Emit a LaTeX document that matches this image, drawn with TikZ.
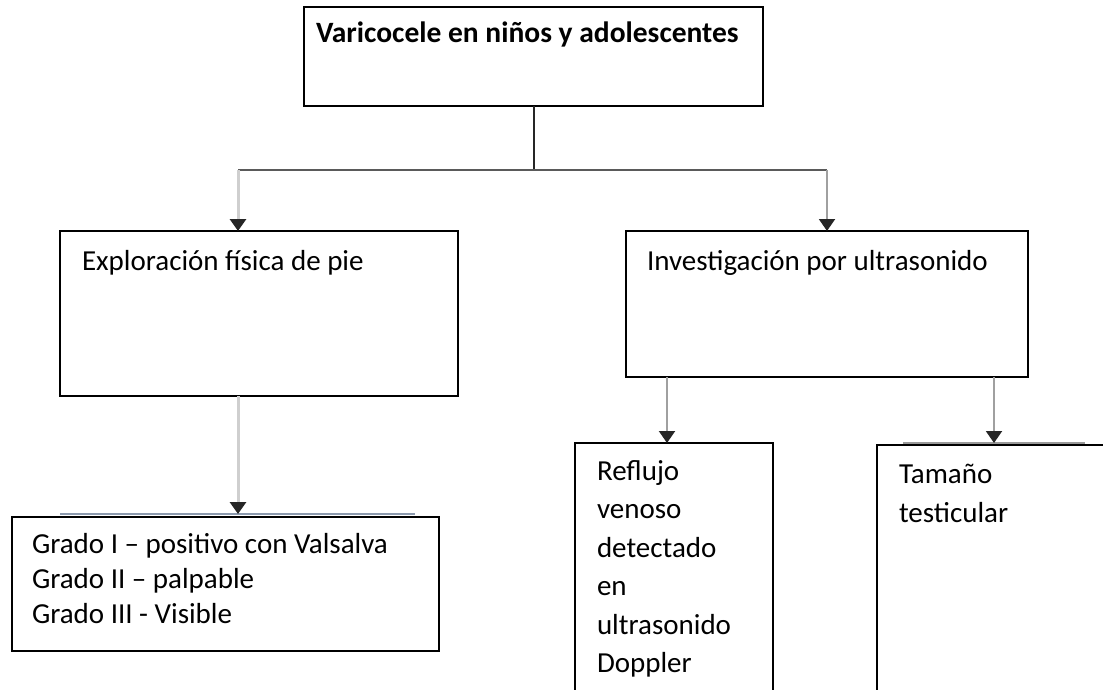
\documentclass[tikz,border=0pt]{standalone}
\usepackage{fontspec}
\setmainfont{Carlito}
\usetikzlibrary{arrows.meta}
\definecolor{barc}{HTML}{5A5A5A}
\definecolor{lightc}{HTML}{CFCFCF}
\definecolor{midc}{HTML}{A0A0A0}
\definecolor{tipc}{HTML}{262626}
\definecolor{blueg}{HTML}{8C9AAE}
\definecolor{greyl}{HTML}{9A9A9A}
\begin{document}
\begin{tikzpicture}[x=1pt,y=-1pt,
  box/.style={draw=black, line width=2pt, rectangle, inner sep=0pt, outer sep=0pt, anchor=north west},
  txt/.style={anchor=base west, inner sep=0pt, outer sep=0pt, font=\fontsize{29}{35}\selectfont},
  ttl/.style={anchor=base west, inner sep=0pt, outer sep=0pt, font=\fontsize{29.5}{36}\selectfont\bfseries},
  tip/.style={-{Triangle[width=16pt,length=12pt,color=tipc]}},
  lightarrow/.style={tip, draw=lightc, line width=3pt},
  midarrow/.style={tip, draw=midc, line width=2pt},
  stemline/.style={draw=black!85, line width=2pt},
  barline/.style={draw=barc, line width=2.6pt},
]
\fill[white] (0,0) rectangle (1103,690);
\useasboundingbox (0,0) rectangle (1103,690);
\clip (0,0) rectangle (1103,690);

% boxes
\node[box, minimum width=459pt, minimum height=99pt] (top) at (304,7) {};
\node[box, minimum width=398pt, minimum height=165pt] (expl) at (60,231) {};
\node[box, minimum width=402pt, minimum height=146pt] (inv) at (626,231) {};
\node[box, minimum width=427pt, minimum height=134pt] (grado) at (12,517) {};
\node[box, minimum width=198pt, minimum height=300pt] (refl) at (575,443) {};
\node[box, minimum width=300pt, minimum height=300pt] (tam) at (877,445) {};

% thin lines on top of lower boxes
\draw[draw=blueg, line width=2pt] (60,514) -- (415,514);
\draw[draw=greyl, line width=2pt] (903,443) -- (1085,443);

% connectors
\coordinate (hl) at (238,170);
\coordinate (hr) at (827,170);
\coordinate (ia) at (667,377);
\coordinate (ib) at (994,377);
\draw[stemline] (top.south) -- (top.south |- hl);
\draw[barline] (hl) -- (hr);
\draw[lightarrow] (hl) -- (hl |- expl.north);
\draw[midarrow] (hr) -- (hr |- inv.north);
\draw[lightarrow, shorten >=3pt] (hl |- expl.south) -- (hl |- grado.north);
\draw[midarrow] (ia) -- (ia |- refl.north);
\draw[midarrow, shorten >=2pt] (ib) -- (ib |- tam.north);

% texts
\node[ttl] (t0) at (316,43) {Varicocele en niños y adolescentes};
\node[txt] (t1) at (82,270) {Exploración física de pie};
\node[txt] (t2) at (647,270) {Investigación por ultrasonido};
\node[txt] (g1) at (32,553) {Grado I – positivo con Valsalva};
\node[txt] (g2) at (32,588) {Grado II – palpable};
\node[txt] (g3) at (32,623) {Grado III - Visible};
\node[txt] (r1) at (597,480) {Reflujo};
\node[txt] (r2) at (597,518.5) {venoso};
\node[txt] (r3) at (597,557) {detectado};
\node[txt] (r4) at (597,595.5) {en};
\node[txt] (r5) at (597,634) {ultrasonido};
\node[txt] (r6) at (597,672.5) {Doppler};
\node[txt] (s1) at (899,483) {Tamaño};
\node[txt] (s2) at (899,522) {testicular};
\end{tikzpicture}
\end{document}
